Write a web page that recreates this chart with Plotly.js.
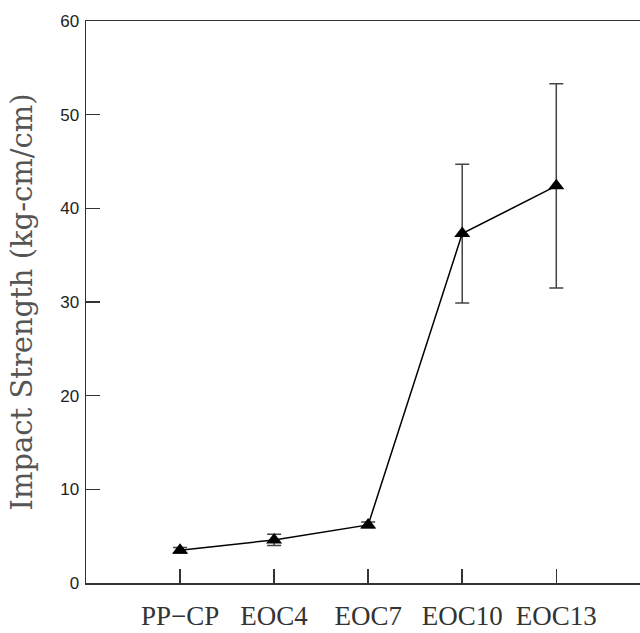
<!DOCTYPE html>
<html>
<head>
<meta charset="utf-8">
<script src="https://cdn.plot.ly/plotly-3.0.1.min.js"></script>
<style>html,body{margin:0;padding:0;background:#fff;overflow:hidden;}</style>
</head>
<body>
<div id="chart" style="width:640px;height:633px;"></div>
<script>
var categories = ["PP\u2212CP", "EOC4", "EOC7", "EOC10", "EOC13"];
var impactStrength = [3.5, 4.6, 6.2, 37.3, 42.4];
var errorValues = [0.3, 0.6, 0.3, 7.4, 10.9];
var yTickValues = [0, 10, 20, 30, 40, 50, 60];

var xIdx = categories.map(function(_, i){ return i; });

var trace = {
  x: xIdx,
  y: impactStrength,
  type: 'scatter',
  mode: 'lines+markers',
  line: {color: '#000', width: 1.5},
  marker: {symbol: 'triangle-up', size: 14, color: '#000'},
  error_y: {type: 'data', array: errorValues, visible: true, color: '#444', thickness: 1.5, width: 7},
  showlegend: false,
  hoverinfo: 'skip'
};

var layout = {
  width: 640, height: 633,
  margin: {l: 86, r: 0, t: 21, b: 50},
  paper_bgcolor: '#fff', plot_bgcolor: '#fff',
  xaxis: {
    range: [-1, 4.89],
    tickvals: xIdx,
    ticktext: categories,
    tickangle: 0,
    ticks: 'inside', ticklen: 14, tickwidth: 1.5, tickcolor: '#333',
    showline: true, linecolor: '#333', linewidth: 1.5, mirror: true,
    showgrid: false, zeroline: false,
    tickfont: {family: 'Liberation Serif', size: 27, color: '#333'},
    ticklabelstandoff: 8,
    automargin: false,
    fixedrange: true
  },
  yaxis: {
    range: [0, 60],
    tickvals: yTickValues,
    ticks: 'inside', ticklen: 14, tickwidth: 1.5, tickcolor: '#333',
    showline: true, linecolor: '#333', linewidth: 1.5, mirror: false,
    showgrid: false, zeroline: false,
    tickfont: {family: 'Liberation Sans', size: 17, color: '#222'},
    ticklabelstandoff: 2,
    title: {text: 'Impact Strength (kg-cm/cm)', font: {family: 'DejaVu Serif', size: 29, color: '#555'}, standoff: 19},
    automargin: false,
    fixedrange: true
  }
};

Plotly.newPlot('chart', [trace], layout, {displayModeBar: false, staticPlot: true});
</script>
</body>
</html>
